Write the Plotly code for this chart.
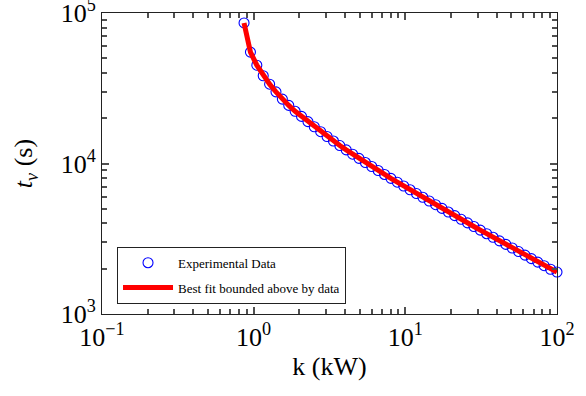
import plotly.graph_objects as go

k_data = [0.864, 0.952, 1.049, 1.156, 1.274, 1.403, 1.546, 1.704, 1.877, 2.068,
          2.279, 2.510, 2.766, 3.047, 3.357, 3.699, 4.076, 4.491, 4.948, 5.453,
          6.008, 6.619, 7.293, 8.035, 8.851, 9.752, 10.75, 11.84, 13.04, 14.37,
          15.83, 17.45, 19.22, 21.18, 23.34, 25.71, 28.33, 31.21, 34.39, 37.89,
          41.75, 45.99, 50.68, 55.84, 61.52, 67.78, 74.68, 82.28, 90.66, 100.0]
t_data = [85900, 55000, 45000, 38300, 33650, 29920, 26790, 24320, 22230, 20560,
          18980, 17550, 16270, 15120, 14100, 13160, 12310, 11530, 10820, 10150,
          9548, 8982, 8456, 7968, 7512, 7087, 6688, 6314, 5964, 5634,
          5325, 5033, 4759, 4502, 4258, 4030, 3814, 3609, 3416, 3234,
          3062, 2900, 2746, 2600, 2463, 2333, 2210, 2094, 1983, 1900]

# Best-fit curve (follows the data)
k_fit = k_data
t_fit = t_data

x_tickvals = [0.1, 1, 10, 100]
x_ticktext = ["10<sup>−1</sup>", "10<sup>0</sup>", "10<sup>1</sup>", "10<sup>2</sup>"]
y_tickvals = [1e3, 1e4, 1e5]
y_ticktext = ["10<sup>3</sup>", "10<sup>4</sup>", "10<sup>5</sup>"]
x_minor_vals = [0.2, 0.3, 0.4, 0.5, 0.6, 0.7, 0.8, 0.9,
                2, 3, 4, 5, 6, 7, 8, 9,
                20, 30, 40, 50, 60, 70, 80, 90]
y_minor_vals = [2000, 3000, 4000, 5000, 6000, 7000, 8000, 9000,
                20000, 30000, 40000, 50000, 60000, 70000, 80000, 90000]

FONT = "Liberation Serif"

fig = go.Figure()
fig.add_trace(go.Scatter(
    x=k_data, y=t_data, mode="markers", name="Experimental Data",
    legendgroup="a", cliponaxis=False,
    marker=dict(symbol="circle-open", size=10, color="#0000ff",
                line=dict(width=1.1, color="#0000ff")),
))
fig.add_trace(go.Scatter(
    x=k_fit, y=t_fit, mode="lines", name="Best fit bounded above by data",
    legendgroup="b",
    line=dict(color="#ff0000", width=5),
))

TICK = "#505050"

fig.update_layout(
    width=586, height=396,
    margin=dict(l=102, r=29, t=13, b=82),
    paper_bgcolor="white", plot_bgcolor="rgba(0,0,0,0)",
    font=dict(family=FONT, color="black"),
    showlegend=True,
    legend=dict(
        x=0.033, y=0.034, xanchor="left", yanchor="bottom",
        bgcolor="white", bordercolor="#222", borderwidth=1,
        font=dict(family=FONT, size=13, color="black"),
        traceorder="grouped", tracegroupgap=5,
        itemwidth=50,
    ),
)

fig.update_xaxes(
    type="log", range=[-1, 2],
    showgrid=False, zeroline=False, automargin=False,
    showline=True, linecolor="#222", linewidth=1, mirror="allticks",
    ticks="inside", ticklen=7, tickwidth=1.5, tickcolor=TICK,
    tickmode="array", tickvals=x_tickvals, ticktext=x_ticktext,
    ticklabeloverflow="allow",
    tickfont=dict(family=FONT, size=26, color="black"),
    minor=dict(ticks="inside", ticklen=5, tickwidth=1.5, tickcolor=TICK, showgrid=False,
               tickmode="array", tickvals=x_minor_vals),
    title=dict(text="k (kW)", font=dict(family=FONT, size=26), standoff=5),
)
fig.update_yaxes(
    type="log", range=[3, 5],
    showgrid=False, zeroline=False, automargin=False,
    showline=True, linecolor="#222", linewidth=1, mirror="allticks",
    ticks="inside", ticklen=7, tickwidth=1.5, tickcolor=TICK,
    tickmode="array", tickvals=y_tickvals, ticktext=y_ticktext,
    ticklabeloverflow="allow",
    tickfont=dict(family=FONT, size=26, color="black"),
    minor=dict(ticks="inside", ticklen=5, tickwidth=1.5, tickcolor=TICK, showgrid=False,
               tickmode="array", tickvals=y_minor_vals),
    title=dict(text="<i>t</i><sub><i>v</i></sub> (s)",
               font=dict(family=FONT, size=26), standoff=20),
)

fig.write_html("out.html", config={"displayModeBar": False},
               post_script="document.body.style.margin='0';")
